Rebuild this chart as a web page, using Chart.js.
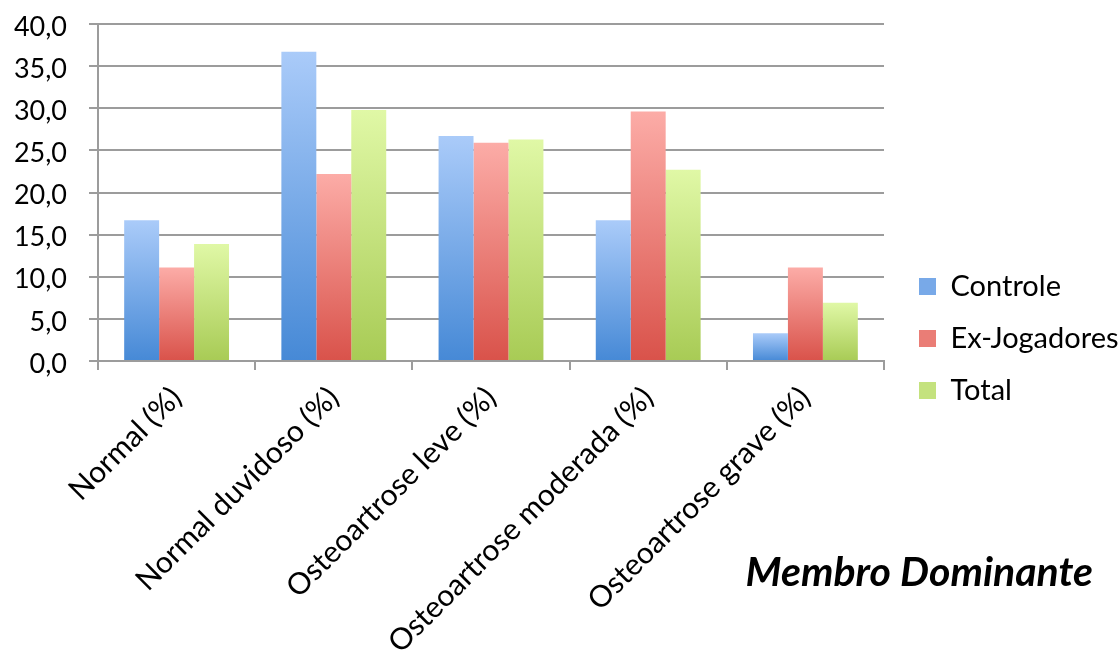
<!DOCTYPE html>
<html>
<head>
<meta charset="utf-8">
<script src="https://cdn.jsdelivr.net/npm/chart.js@4/dist/chart.umd.min.js"></script>
<style>
  html, body { margin: 0; padding: 0; background: #fff; }
  #wrap { width: 1119px; height: 653px; }
</style>
</head>
<body>
<div id="wrap"><canvas id="c" width="1119" height="653"></canvas></div>
<script>
// Categories along the x axis
const categories = [
  'Normal (%)',
  'Normal duvidoso (%)',
  'Osteoartrose leve (%)',
  'Osteoartrose moderada (%)',
  'Osteoartrose grave (%)'
];

// Series values (percent)
const controle     = [16.7, 36.7, 26.7, 16.7, 3.3];
const exJogadores  = [11.1, 22.2, 25.9, 29.6, 11.1];
const total        = [13.9, 29.8, 26.3, 22.7, 6.9];

// Series names
const seriesNames = ['Controle', 'Ex-Jogadores', 'Total'];

// Y axis tick labels (0 to 40, step 5)
const yTickValues = [0, 5, 10, 15, 20, 25, 30, 35, 40];
const yTickLabels = ['0,0', '5,0', '10,0', '15,0', '20,0', '25,0', '30,0', '35,0', '40,0'];

const chartTitle = 'Membro Dominante';

// Gradient colour stops for each series: [top, bottom]
const palette = [
  ['#aacbf9', '#4689d6'],
  ['#fcaca7', '#d9524a'],
  ['#e0f8a6', '#a8cb55']
];
const legendSwatch = ['#78a9e8', '#ea7d76', '#c4e27e'];

const FONT = 'Lato, "Open Sans", sans-serif';

function barGradient(seriesIndex) {
  return (ctx) => {
    const [c0, c1] = palette[seriesIndex];
    const chart = ctx.chart;
    if (ctx.type !== 'data' || !chart.chartArea || !chart.scales.y) return c1;
    const y = chart.scales.y;
    const top = y.getPixelForValue(ctx.raw);
    const base = y.getPixelForValue(0);
    if (!isFinite(top) || !isFinite(base) || top === base) return c1;
    const g = chart.ctx.createLinearGradient(0, top, 0, base);
    g.addColorStop(0, c0);
    g.addColorStop(1, c1);
    return g;
  };
}

const seriesData = [controle, exJogadores, total];

const datasets = seriesNames.map((name, i) => ({
  label: name,
  data: seriesData[i],
  backgroundColor: barGradient(i),
  borderWidth: 0,
  categoryPercentage: 0.667,
  barPercentage: 1.0
}));

// Fixes the legend column width and nudges the swatches to the right
const legendBox = {
  id: 'legendBox',
  afterInit(chart) {
    const lg = chart.legend;
    const fit = lg.fit;
    lg.fit = function () {
      fit.apply(this, arguments);
      this.width = 235;
    };
  },
  afterLayout(chart) {
    const lg = chart.legend;
    const shift = 12;
    lg.left += shift;
    lg.right += shift;
  }
};

// Caption at the lower right of the canvas
const caption = {
  id: 'caption',
  afterDraw(chart) {
    const c = chart.ctx;
    c.save();
    c.font = 'italic bold 41px ' + FONT;
    c.fillStyle = '#000';
    c.textAlign = 'right';
    c.textBaseline = 'alphabetic';
    c.fillText(chartTitle, chart.width - 26, 586);
    c.restore();
  }
};

const gridColor = '#9c9c9c';

new Chart(document.getElementById('c'), {
  type: 'bar',
  data: { labels: categories, datasets },
  plugins: [legendBox, caption],
  options: {
    responsive: false,
    devicePixelRatio: 1,
    animation: false,
    layout: { padding: { top: 24, left: 0, right: 0, bottom: 0 } },
    plugins: {
      tooltip: { enabled: false },
      title: { display: false },
      legend: {
        position: 'right',
        align: 'center',
        labels: {
          font: { family: FONT, size: 29 },
          color: '#000',
          boxWidth: 17,
          boxHeight: 17,
          padding: 23,
          generateLabels(chart) {
            return chart.data.datasets.map((ds, i) => ({
              text: ds.label,
              fillStyle: legendSwatch[i],
              strokeStyle: legendSwatch[i],
              lineWidth: 0,
              hidden: false,
              datasetIndex: i,
              fontColor: '#000'
            }));
          }
        }
      }
    },
    scales: {
      x: {
        grid: {
          display: true,
          offset: true,
          drawOnChartArea: false,
          drawTicks: true,
          tickLength: 9,
          color: gridColor,
          lineWidth: 2
        },
        border: { display: true, color: gridColor, width: 2 },
        ticks: {
          minRotation: 45,
          maxRotation: 45,
          autoSkip: false,
          padding: 10,
          color: '#000',
          font: { family: FONT, size: 30 }
        },
        afterFit(scale) {
          scale.height = 292;
          scale.paddingLeft = 0;
          scale.paddingRight = 0;
        }
      },
      y: {
        min: 0,
        max: 40,
        afterBuildTicks(scale) {
          scale.ticks = yTickValues.map(v => ({ value: v }));
        },
        grid: {
          color: gridColor,
          lineWidth: 2,
          drawTicks: true,
          tickLength: 9
        },
        border: { display: true, color: gridColor, width: 2 },
        ticks: {
          padding: 22,
          labelOffset: 3,
          color: '#000',
          font: { family: FONT, size: 27 },
          callback(value, index) { return yTickLabels[index]; }
        },
        afterFit(scale) {
          scale.width = 98;
          scale.paddingTop = 0;
          scale.paddingBottom = 0;
        }
      }
    }
  }
});
</script>
</body>
</html>
